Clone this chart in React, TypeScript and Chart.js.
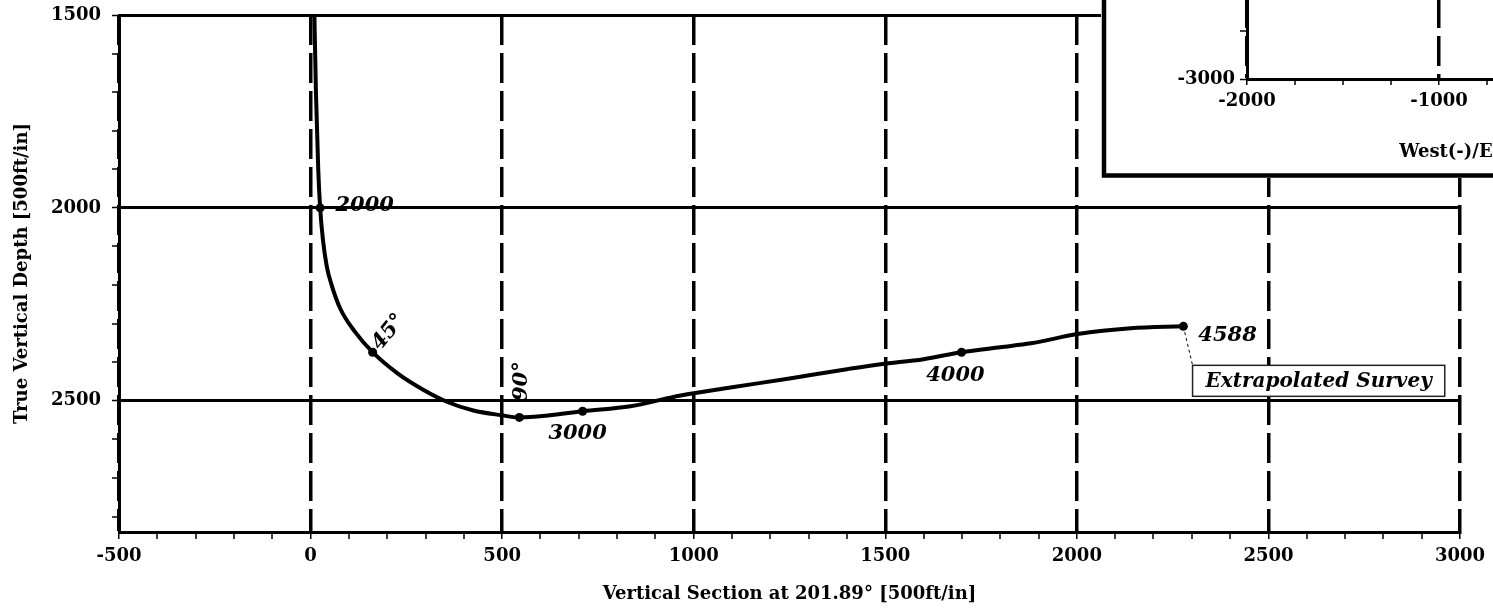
import React, { useEffect, useRef } from 'react';
import { Chart, registerables } from 'chart.js';

Chart.register(...registerables);

// ---- Main section: well path (Vertical Section vs True Vertical Depth) ----
const wellVS = [10, 14, 20, 25, 32, 42, 55, 78, 115, 162, 227, 295, 357, 425, 496, 545, 620, 710, 835, 966, 1100, 1250, 1400, 1488, 1600, 1699, 1800, 1880, 2002, 2140, 2278];
const wellTVD = [1500, 1700, 1900, 2000, 2080, 2150, 2200, 2262, 2320, 2374, 2429, 2472, 2503, 2525, 2537, 2543, 2538, 2527, 2514, 2486, 2465, 2442, 2418, 2405, 2392, 2374, 2361, 2351, 2327, 2312, 2307];

// survey markers
const markerVS = [25, 162, 545, 710, 1699, 2278];
const markerTVD = [2000, 2374, 2543, 2527, 2374, 2307];

// annotation texts and their anchors (data units)
const noteText = ['2000', '45°', '90°', '3000', '4000', '4588'];
const noteVS = [65, 204, 551, 697, 1683, 2317];
const noteTVD = [1995, 2322, 2449, 2584, 2434, 2330];
const noteAngle = [0, -51, -90, 0, 0, 0];
const noteAlign = ['left', 'center', 'center', 'center', 'center', 'left'];

// extrapolated survey call-out
const boxText = 'Extrapolated Survey';
const leaderVS = [2278, 2302];
const leaderTVD = [2307, 2408];

const xTitle = 'Vertical Section at 201.89° [500ft/in]';
const yTitle = 'True Vertical Depth [500ft/in]';
const xRange = [-500, 3000];
const yRange = [1500, 2840];
const majorStep = 500;
const minorStep = 100;

// ---- Inset plan view (partially visible) ----
const insetXTitle = 'West(-)/East(+) [1000ft/in]';
const insetXRange = [-2000, 1000];
const insetYRange = [-3000, -600];
const insetMajor = 1000;
const insetMinor = 250;

const FONT = "'DejaVu Serif', 'Liberation Serif', serif";

const notesPlugin = {
  id: 'notes',
  afterDatasetsDraw(chart: any) {
    const { ctx } = chart;
    const xs = chart.scales.x;
    const ys = chart.scales.y;
    ctx.save();
    ctx.fillStyle = '#000';
    ctx.font = `italic bold 21px ${FONT}`;
    ctx.textBaseline = 'middle';
    noteText.forEach((t, i) => {
      const px = xs.getPixelForValue(noteVS[i]);
      const py = ys.getPixelForValue(noteTVD[i]);
      ctx.save();
      ctx.translate(px, py);
      ctx.rotate((noteAngle[i] * Math.PI) / 180);
      ctx.textAlign = noteAlign[i];
      ctx.fillText(t, 0, 0);
      ctx.restore();
    });
    // call-out box
    const bx = xs.getPixelForValue(leaderVS[1]);
    const by = ys.getPixelForValue(leaderTVD[1]);
    ctx.font = `italic bold 20px ${FONT}`;
    const w = ctx.measureText(boxText).width + 26;
    const h = 31;
    ctx.fillStyle = '#fff';
    ctx.fillRect(bx, by, w, h);
    ctx.strokeStyle = '#222';
    ctx.lineWidth = 1.5;
    ctx.strokeRect(bx, by, w, h);
    ctx.fillStyle = '#000';
    ctx.textAlign = 'left';
    ctx.textBaseline = 'middle';
    ctx.fillText(boxText, bx + 13, by + h / 2 + 1);
    ctx.restore();
  },
};

const insetFramePlugin = {
  id: 'insetFrame',
  beforeDraw(chart: any) {
    const { ctx, width, height } = chart;
    ctx.save();
    ctx.fillStyle = '#fff';
    ctx.fillRect(0, 0, width, height);
    ctx.restore();
  },
  afterDraw(chart: any) {
    const { ctx, width, height } = chart;
    ctx.save();
    ctx.strokeStyle = '#000';
    ctx.lineWidth = 4.5;
    ctx.beginPath();
    ctx.moveTo(3, 0);
    ctx.lineTo(3, height - 2.5);
    ctx.lineTo(width, height - 2.5);
    ctx.stroke();
    ctx.restore();
  },
};

const isMajor = (c: any, step: number) => c && c.tick && Math.abs(c.tick.value % step) < 1e-6;

export default function App() {
  const mainRef = useRef<HTMLCanvasElement | null>(null);
  const insetRef = useRef<HTMLCanvasElement | null>(null);

  useEffect(() => {
    const tickFont = { family: FONT, size: 18, weight: 'bold' as const };
    const titleFont = { family: FONT, size: 18, weight: 'bold' as const };

    const main = new Chart(mainRef.current as HTMLCanvasElement, {
      type: 'scatter',
      data: {
        datasets: [
          {
            data: wellVS.map((x, i) => ({ x, y: wellTVD[i] })),
            showLine: true,
            borderColor: '#000',
            borderWidth: 4,
            pointRadius: 0,
            cubicInterpolationMode: 'monotone',
            fill: false,
          } as any,
          {
            data: leaderVS.map((x, i) => ({ x, y: leaderTVD[i] })),
            showLine: true,
            borderColor: '#000',
            borderWidth: 1,
            borderDash: [3, 3],
            pointRadius: 0,
          } as any,
          {
            data: markerVS.map((x, i) => ({ x, y: markerTVD[i] })),
            showLine: false,
            pointRadius: 4.5,
            pointBackgroundColor: '#000',
            pointBorderColor: '#000',
            pointBorderWidth: 0,
          } as any,
        ],
      },
      options: {
        responsive: false,
        animation: false,
        devicePixelRatio: 1,
        layout: { padding: { left: 0, top: 15, right: 33, bottom: 0 } },
        plugins: { legend: { display: false }, tooltip: { enabled: false } },
        scales: {
          x: {
            type: 'linear',
            position: 'bottom',
            min: xRange[0],
            max: xRange[1],
            afterFit: (s: any) => {
              s.height = 84;
              s.paddingLeft = 0;
              s.paddingRight = 0;
            },
            ticks: {
              stepSize: minorStep,
              includeBounds: false,
              autoSkip: false,
              maxRotation: 0,
              minRotation: 0,
              padding: 7,
              color: '#000',
              font: tickFont,
              callback: (v: any) => (Math.abs(v % majorStep) < 1e-6 ? String(v) : ''),
            },
            grid: {
              color: (c: any) => (isMajor(c, majorStep) ? '#000' : 'rgba(0,0,0,0)'),
              lineWidth: (c: any) => (isMajor(c, majorStep) ? 3.5 : 0),
              tickLength: 7,
              tickWidth: 1.5,
              tickColor: '#000',
            },
            border: { display: true, color: '#000', width: 3, dash: [30, 8] },
            title: { display: true, text: xTitle, color: '#000', font: titleFont, padding: { top: 0, bottom: 11 } },
          } as any,
          y: {
            type: 'linear',
            reverse: true,
            min: yRange[0],
            max: yRange[1],
            afterFit: (s: any) => {
              s.width = 119;
              s.paddingTop = 0;
              s.paddingBottom = 0;
            },
            ticks: {
              stepSize: minorStep,
              includeBounds: false,
              autoSkip: false,
              padding: 11,
              color: '#000',
              font: tickFont,
              callback: (v: any) => (Math.abs(v % majorStep) < 1e-6 ? String(v) : ''),
            },
            grid: {
              color: (c: any) => (isMajor(c, majorStep) ? '#000' : 'rgba(0,0,0,0)'),
              lineWidth: (c: any) => (isMajor(c, majorStep) ? 3 : 0),
              tickLength: 7,
              tickWidth: 1.5,
              tickColor: '#000',
            },
            border: { display: true, color: '#000', width: 3 },
            title: { display: true, text: yTitle, color: '#000', font: titleFont, padding: { top: 12, bottom: 0 } },
          } as any,
        },
      },
      plugins: [notesPlugin],
    });

    const inset = new Chart(insetRef.current as HTMLCanvasElement, {
      type: 'scatter',
      data: { datasets: [] },
      options: {
        responsive: false,
        animation: false,
        devicePixelRatio: 1,
        layout: { padding: { left: 0, top: 18, right: 78, bottom: 0 } },
        plugins: { legend: { display: false }, tooltip: { enabled: false } },
        scales: {
          x: {
            type: 'linear',
            position: 'bottom',
            min: insetXRange[0],
            max: insetXRange[1],
            afterFit: (s: any) => {
              s.height = 99;
            },
            ticks: {
              stepSize: insetMinor,
              includeBounds: false,
              autoSkip: false,
              maxRotation: 0,
              padding: 5.5,
              color: '#000',
              font: tickFont,
              callback: (v: any) => (Math.abs(v % insetMajor) < 1e-6 ? String(v) : ''),
            },
            grid: {
              color: (c: any) => (isMajor(c, insetMajor) ? '#000' : 'rgba(0,0,0,0)'),
              lineWidth: (c: any) => (isMajor(c, insetMajor) ? 3.5 : 0),
              tickLength: 6,
              tickWidth: 1.5,
              tickColor: '#000',
            },
            border: { display: true, color: '#000', width: 3, dash: [30, 8] },
            title: { display: true, text: insetXTitle, color: '#000', font: titleFont, padding: { top: 0, bottom: 15 } },
          } as any,
          y: {
            type: 'linear',
            min: insetYRange[0],
            max: insetYRange[1],
            afterFit: (s: any) => {
              s.width = 146;
            },
            ticks: {
              stepSize: insetMinor,
              includeBounds: false,
              autoSkip: false,
              padding: 5,
              color: '#000',
              font: tickFont,
              callback: (v: any) => (Math.abs(v % insetMajor) < 1e-6 ? String(v) : ''),
            },
            grid: {
              color: (c: any) => (isMajor(c, insetMajor) ? '#000' : 'rgba(0,0,0,0)'),
              lineWidth: (c: any) => (isMajor(c, insetMajor) ? 3 : 0),
              tickLength: 7,
              tickWidth: 1.5,
              tickColor: '#000',
            },
            border: { display: true, color: '#000', width: 3 },
          } as any,
        },
      },
      plugins: [insetFramePlugin],
    });

    return () => {
      main.destroy();
      inset.destroy();
    };
  }, []);

  return (
    <div
      style={{
        position: 'fixed',
        left: 0,
        top: 0,
        width: 1493,
        height: 616,
        overflow: 'hidden',
        background: '#fff',
      }}
    >
      <canvas ref={mainRef} width={1493} height={616} style={{ position: 'absolute', left: 0, top: 0 }} />
      <canvas ref={insetRef} width={800} height={578} style={{ position: 'absolute', left: 1101, top: -400 }} />
    </div>
  );
}
